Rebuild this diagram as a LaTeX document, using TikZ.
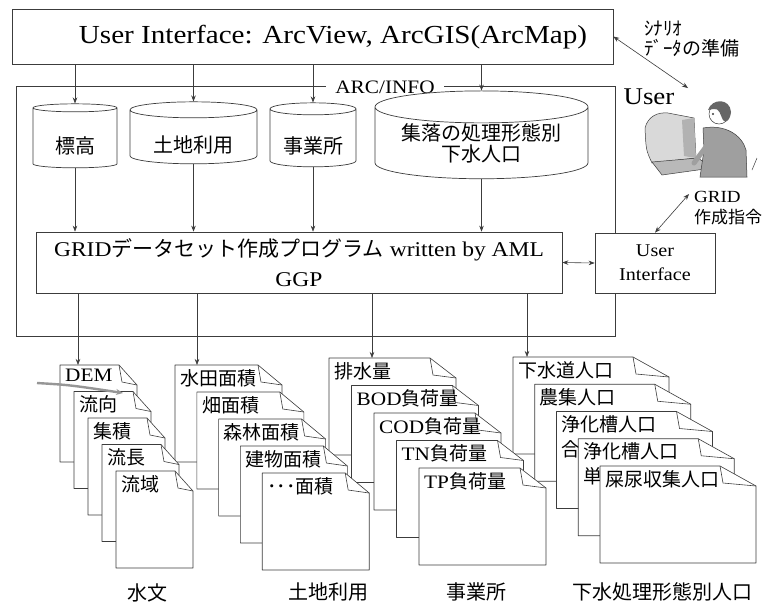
\documentclass[tikz,border=0pt]{standalone}
\usepackage{fontspec}
\setmainfont{Liberation Serif}[FakeStretch=1.12]
\newfontfamily\jp{Noto Sans CJK JP}
\usepackage{tikz}
\usetikzlibrary{shapes.geometric, arrows.meta, positioning, calc}
\definecolor{myline}{RGB}{60,60,60}
\definecolor{mygray}{RGB}{150,150,150}
\newcommand{\setpt}[2]{\fontsize{#1}{#2}\selectfont}
\newcommand{\low}[1]{\raisebox{-8pt}[\height][\depth]{#1}}
\tikzset{
  panel/.style={rectangle, draw=myline, fill=white, line width=0.7pt, inner sep=0pt},
  dbase/.style={cylinder, shape border rotate=90, aspect=0.2, draw=myline, fill=white,
    line width=0.7pt, inner sep=0pt, align=center, font=\jp\setpt{20}{21}},
  arrow/.style={-{Stealth[length=6pt,width=4.5pt]}, line width=0.6pt, color=myline},
  darrow/.style={{Stealth[length=6pt,width=4.5pt]}-{Stealth[length=6pt,width=4.5pt]},
    line width=0.6pt, color=myline},
  sheet/.style={draw=myline, fill=white, line width=0.6pt, line join=round},
  sheettext/.style={anchor=north west, inner sep=0pt, align=left, font=\jp\setpt{19}{25}},
  footlbl/.style={font=\jp\setpt{20}{20}}
}
% one page of a stack: x, y, width, fold, name, text
\newcommand{\sheet}[6]{%
  \draw[sheet] (#1,#2) -- ++(#3-#4,0) -- ++(#4,20) -- ++(0,77) -- ++(-#3,0) -- cycle;
  \draw[sheet, fill=none] (#1+#3-#4,#2) -- ++(3,17) -- ++(#4-3,3);
  \node[sheettext] (#5) at (#1+5,#2+4) {#6};
}

\begin{document}
\begin{tikzpicture}[x=1pt, y=-1pt]
  \fill[white] (0,0) rectangle (770,606);
  \useasboundingbox (0,0) rectangle (770,606);

  % ArcView / ArcGIS front end
  \node[panel, minimum width=601pt, minimum height=55pt] (uitop) at (312.5,36.5) {};
  \node[font=\setpt{26}{26}] (uitxt) at (333,37) {User Interface: ArcView, ArcGIS(ArcMap)};

  % ARC/INFO frame
  \node[panel, fill=none, minimum width=599pt, minimum height=250pt] (arcinfo) at (315.5,211) {};
  \node[fill=white, inner xsep=9pt, inner ysep=1pt, font=\setpt{19}{19}] (arclbl) at (385,87) {ARC/INFO};

  % source data
  \node[dbase, minimum width=84pt, minimum height=64pt] (elev) at (75,138) {\low{標高}};
  \node[dbase, minimum width=127pt, minimum height=62pt] (land) at (193.5,137) {\low{土地利用}};
  \node[dbase, minimum width=86pt, minimum height=64pt] (office) at (313,138) {\low{事業所}};
  \node[dbase, minimum width=213pt, minimum height=80pt] (settle) at (481.5,143) {集落の処理形態別\\下水人口};

  % GRID generator and its interface
  \node[panel, minimum width=526pt, minimum height=61pt, align=center, font=\setpt{21}{30}] (ggp) at (299,262.5)
    {GRID{\jp データセット作成プログラム} written by AML\\GGP};
  \node[panel, minimum width=120pt, minimum height=60pt, align=center, font=\setpt{18}{24}] (uibox) at (655,263)
    {User\\Interface};

  \foreach \c in {elev, land, office, settle} {
    \draw[arrow] (\c.north |- uitop.south) -- (\c.north);
    \draw[arrow] (\c.south) -- (\c.south |- ggp.north);
  }
  \draw[darrow] (ggp.east) -- (uibox.west);

  % user side
  \node[font=\setpt{24}{24}] (user) at (649,97) {User};
  \node[anchor=north west, align=left, inner sep=0pt, font=\jp\setpt{19}{20}] (scen) at (644,21) {ｼﾅﾘｵ\\ﾃﾞｰﾀの準備};
  \node[anchor=north west, align=left, inner sep=0pt, font=\setpt{17}{21}] (cmdlbl) at (694,191) {GRID\\{\jp 作成指令}};
  \coordinate (usr) at (688,88);
  \coordinate (cmd) at (689,194);
  \draw[darrow] (uitop.east) -- (usr);
  \draw[darrow] (cmd) -- (uibox.north);

  % operator at the terminal
  \fill[gray!30, draw=myline, line width=0.5pt] (645,128) .. controls (648,116) and (658,112) .. (668,113)
    -- (694,118) -- (696,158) -- (652,163) .. controls (646,150) .. (645,128) -- cycle;
  \fill[gray!60] (682,120) -- (694,118) -- (696,158) -- (684,156) -- cycle;
  \fill[gray!55, draw=myline, line width=0.5pt] (652,162) -- (698,158) -- (712,168) -- (662,175) -- cycle;
  \fill[gray!75, draw=myline, line width=0.5pt] (703,128) .. controls (725,124) and (742,135) .. (746,150)
    -- (747,177) -- (700,177) -- (704,150) -- cycle;
  \draw[line width=5pt, gray!75, line cap=round] (711,140) -- (694,163);
  \fill[white, draw=myline, line width=0.5pt] (719,114) circle (10);
  \fill[gray!80!black] (708,110) .. controls (712,98) and (730,98) .. (731,112)
    .. controls (730,122) and (724,124) .. (722,118) .. controls (718,108) .. (708,110) -- cycle;
  \fill[myline] (713,114) circle (1.2);
  \draw[line width=0.5pt, myline] (757,158) -- (752,170);

  % output grids, back stacks first
  \foreach \txt [count=\i from 0] in {下水道人口, 農集人口, {浄化槽人口\\合}, {浄化槽人口\\単}, 屎尿収集人口}
    \sheet{513+21.75*\i}{357+27.25*\i}{156}{36}{sw\i}{\txt};
  \foreach \txt [count=\i from 0] in {排水量, {{\rmfamily BOD}負荷量}, {{\rmfamily COD}負荷量}, {{\rmfamily TN}負荷量}, {{\rmfamily TP}負荷量}}
    \sheet{329+22.5*\i}{358+27.5*\i}{127}{26}{of\i}{\txt};
  \foreach \txt [count=\i from 0] in {水田面積, 畑面積, 森林面積, 建物面積, ･･･面積}
    \sheet{175+21.8*\i}{365+27*\i}{107}{24}{lu\i}{\txt};
  \foreach \txt [count=\i from 0] in {{\rmfamily DEM}, 流向, 集積, 流長, 流域}
    \sheet{60+14*\i}{365+26.5*\i}{77}{18}{hyd\i}{\txt};

  \coordinate (hydin) at (78,365);
  \coordinate (luin) at (197,365);
  \coordinate (ofin) at (372,358);
  \coordinate (swin) at (527,357);
  \foreach \c in {hydin, luin, ofin, swin}
    \draw[arrow] (\c |- ggp.south) -- (\c);

  % pen mark over the DEM sheet
  \coordinate (mk1) at (37,383);
  \coordinate (mk2) at (123,393);
  \draw[-{Stealth[length=7pt,width=6pt]}, line width=2.4pt, mygray] (mk1) .. controls (70,385) .. (mk2);

  \node[footlbl] (fhyd) at (147,593) {水文};
  \node[footlbl] (flu) at (328,592) {土地利用};
  \node[footlbl] (fof) at (476,592) {事業所};
  \node[footlbl] (fsw) at (662,592) {下水処理形態別人口};
\end{tikzpicture}
\end{document}
